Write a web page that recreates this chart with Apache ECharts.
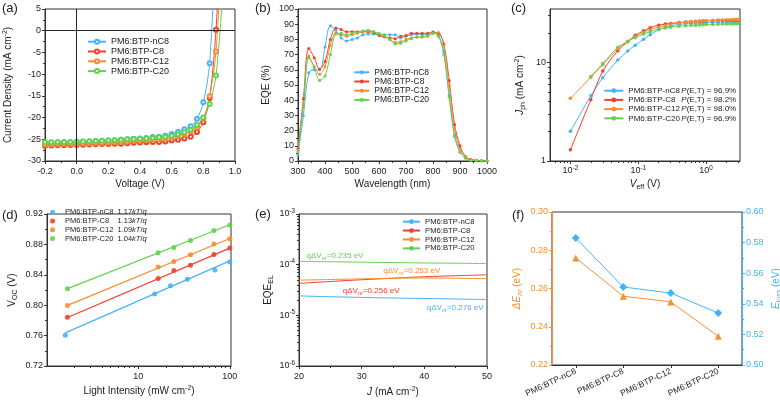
<!DOCTYPE html>
<html><head><meta charset="utf-8">
<script src="https://cdn.jsdelivr.net/npm/echarts@6/dist/echarts.min.js"></script>
<style>html,body{margin:0;padding:0;background:#fff}#c{width:780px;height:403px}</style>
</head><body><div id="c"></div>
<script>
const FONT = '"Liberation Sans", Arial, Helvetica, sans-serif';
const SERIES_NAMES = ['PM6:BTP-nC8', 'PM6:BTP-C8', 'PM6:BTP-C12', 'PM6:BTP-C20'];
const COLORS = ['#46b3f5', '#f0412d', '#f98b30', '#63d24e'];

// (a) J-V curves
const jvVoltage = [-0.2,-0.16,-0.12,-0.08,-0.04,0,0.04,0.08,0.12,0.16,0.2,0.24,0.28,0.32,0.36,0.4,0.44,0.48,0.52,0.56,0.6,0.64,0.68,0.72,0.76,0.8,0.84,0.88,0.92];
const jvNC8 = [-25.9,-25.85,-25.8,-25.75,-25.7,-25.6,-25.55,-25.5,-25.4,-25.35,-25.3,-25.2,-25.1,-25.0,-24.9,-24.8,-24.7,-24.5,-24.4,-24.2,-23.8,-23.3,-22.7,-22.0,-20.3,-16.5,-7.5,22,null];
const jvC8 = [-26.5,-26.45,-26.4,-26.35,-26.3,-26.3,-26.25,-26.2,-26.15,-26.1,-26.1,-26.0,-26.0,-25.9,-25.8,-25.75,-25.7,-25.65,-25.6,-25.5,-25.3,-25.1,-24.8,-24.4,-23.3,-21.1,-15.5,0.2,30];
const jvC12 = [-26.2,-26.15,-26.1,-26.05,-26.0,-26.0,-25.95,-25.9,-25.85,-25.8,-25.75,-25.7,-25.6,-25.5,-25.4,-25.3,-25.2,-25.1,-25.0,-24.85,-24.6,-24.25,-23.8,-23.2,-22.3,-20.3,-15.1,-4.8,21];
const jvC20 = [-25.7,-25.7,-25.65,-25.6,-25.6,-25.55,-25.5,-25.45,-25.4,-25.35,-25.3,-25.2,-25.1,-25.0,-24.95,-24.9,-24.8,-24.7,-24.55,-24.4,-24.2,-23.9,-23.4,-22.8,-21.7,-20.0,-16.9,-10.3,7];

// (b) EQE spectra
const eqeWavelength = [300,320,340,360,380,400,420,440,460,480,500,520,540,560,580,600,620,640,660,680,700,720,740,760,780,800,820,840,860,880,900,920,940,960,980,1000];
const eqeNC8 = [4,30,58,60,60,75,89,86,81,79,80,81,83,83.5,83.5,83,83,83,83,81,82,83,83.5,83,83.5,85,83,72,43,17,6,2,0.5,0.2,0.1,0];
const eqeC8 = [8,41,74,68,60.5,65.5,80,87.5,86.5,85,85,85,85,85,84.5,82.5,81.5,81,80.5,82,82.5,84,84,84,84,84.5,84,77,53,24,10,3,1,0.5,0.2,0.1];
const eqeC12 = [7,37,69,62,57,62,76,84,83,82,83,84,85,85.5,85,83.5,82,80,78,78.5,80,81,81.5,81.5,82,84,84.5,76,50,21,8,3,1,0.5,0.2,0.1];
const eqeC20 = [6,36,68,62,53,56,70,83.5,84,83,84,84.5,85.5,86,85,84,82.5,80,77,77.5,79,80.5,81.5,81.5,82.5,84,82,70,42,16,6,2,0.5,0.3,0.1,0];

// (c) Jph vs Veff
const veff = [0.01,0.02,0.03,0.05,0.07,0.09,0.12,0.15,0.2,0.25,0.3,0.4,0.5,0.6,0.7,0.8,0.9,1.0,1.25,1.5,1.75,2.0,2.25,2.5,2.75,3.0];
const jphNC8 = [2.0,4.6,7.0,10.6,13.1,15.0,17.3,19.2,21.5,22.8,23.6,24.4,24.8,25.0,25.2,25.3,25.4,25.5,25.6,25.7,25.8,25.8,25.9,25.9,26.0,26.0];
const jphC8 = [1.3,4.2,8.2,13.2,16.3,18.9,21.0,22.6,24.0,24.6,25.0,25.5,25.8,26.0,26.2,26.3,26.4,26.5,26.6,26.7,26.8,26.9,26.9,27.0,27.0,27.1];
const jphC12 = [4.33,7.1,9.5,13.8,16.5,18.3,20.3,21.6,22.9,23.8,24.5,25.3,25.8,26.1,26.3,26.5,26.6,26.7,26.9,27.0,27.1,27.2,27.2,27.3,27.3,27.4];
const jphC20 = [null,7.2,9.8,14.3,16.4,17.9,19.5,20.6,21.8,22.5,22.9,23.4,23.7,23.9,24.0,24.1,24.2,24.3,24.4,24.5,24.6,24.6,24.7,24.7,24.8,24.8];
const dissociationP = ['96.9%', '98.2%', '98.0%', '96.9%'];

// (d) Voc vs light intensity
const lightNC8 = [1.6,15.1,22.5,34.4,68.8,100];
const lightOthers = [1.69,16.5,24.5,37.2,67.0,100];
const vocNC8 = [0.7605,0.8147,0.8257,0.8341,0.8464,0.857];
const vocC8 = [0.7843,0.835,0.8456,0.8526,0.8667,0.8751];
const vocC12 = [0.7997,0.8504,0.8574,0.8663,0.8804,0.8874];
const vocC20 = [0.8218,0.8689,0.8759,0.8852,0.8984,0.9055];
const fitNC8 = [0.7636,0.8583];
const fitC8 = [0.7839,0.8751];
const fitC12 = [0.7997,0.8878];
const fitC20 = [0.8218,0.9059];
const idealityN = ['1.17', '1.13', '1.09', '1.04'];

// (e) EQE_EL vs J
const jEL = [20,25,30,35,40,45,50];
const elNC8 = [2.42e-5,2.33e-5,2.26e-5,2.2e-5,2.15e-5,2.1e-5,2.05e-5];
const elC8 = [4.26e-5,4.65e-5,5.04e-5,5.4e-5,5.78e-5,6.05e-5,6.3e-5];
const elC12 = [4.95e-5,5.1e-5,5.25e-5,5.4e-5,5.45e-5,5.4e-5,5.3e-5];
const elC20 = [1.16e-4,1.14e-4,1.12e-4,1.10e-4,1.08e-4,1.07e-4,1.05e-4];
const dVnrLabels = ['0.276', '0.256', '0.253', '0.235'];

// (f) energy loss
const fCategories = ['PM6:BTP-nC8', 'PM6:BTP-C8', 'PM6:BTP-C12', 'PM6:BTP-C20'];
const dEnr = [0.276, 0.256, 0.253, 0.235];
const eLoss = [0.583, 0.551, 0.547, 0.534];

// ---------- helpers ----------
const zip = (xs, ys) => xs.map((x, i) => [x, ys[i]]);
function merge(a, b) {
  const out = Object.assign({}, a);
  for (const k in b) {
    const v = b[k];
    if (v && typeof v === 'object' && !Array.isArray(v) && a && a[k] && typeof a[k] === 'object' && !Array.isArray(a[k])) out[k] = merge(a[k], v);
    else out[k] = v;
  }
  return out;
}
function richSet(color, size) {
  const s = Math.round(size * 0.7 * 10) / 10;
  return {
    b: {fontSize: size, lineHeight: size + 3, fontFamily: FONT, color: color},
    i: {fontSize: size, lineHeight: size + 3, fontStyle: 'italic', fontFamily: FONT, color: color},
    sup: {fontSize: s, lineHeight: s + 1, verticalAlign: 'top', fontFamily: FONT, color: color},
    sub: {fontSize: s, lineHeight: s + 1, verticalAlign: 'bottom', fontFamily: FONT, color: color},
    isub: {fontSize: s, lineHeight: s + 1, verticalAlign: 'bottom', fontStyle: 'italic', fontFamily: FONT, color: color}
  };
}
const pow10Label = v => '{b|10}{sup|' + Math.round(Math.log10(v)) + '}';
const AX = '#333';
const TXT = '#222';
function baseAxis(color) {
  color = color || AX;
  const tcol = color === AX ? TXT : color;
  return {
    nameMoveOverlap: false,
    axisLine: {show: true, onZero: false, lineStyle: {color: color, width: 1}},
    axisTick: {show: true, inside: false, length: 3, lineStyle: {color: color, width: 1}},
    minorTick: {show: false, splitNumber: 2, length: 2, lineStyle: {color: color, width: 1}},
    splitLine: {show: false},
    minorSplitLine: {show: false},
    axisLabel: {fontSize: 9, color: tcol, fontFamily: FONT, margin: 4, lineHeight: 12, rich: richSet(tcol, 9)},
    nameLocation: 'middle',
    nameTextStyle: {fontSize: 10, color: tcol, fontFamily: FONT, lineHeight: 13, rich: richSet(tcol, 10)}
  };
}
function ax(extra, color) { return merge(baseAxis(color), extra); }
function minorAxis(grid, pos, lo, hi, values) {
  return {
    gridIndex: grid, type: 'value', position: pos, min: lo, max: hi, silent: true,
    axisLine: {show: false, onZero: false}, axisLabel: {show: false}, splitLine: {show: false},
    axisTick: {show: true, inside: false, length: 2, customValues: values, lineStyle: {color: AX, width: 1}}
  };
}
function logMinors(lo, hi) {
  const out = [];
  for (let e = Math.floor(Math.log10(lo)); e <= Math.ceil(Math.log10(hi)); e++) {
    for (let m = 2; m <= 9; m++) {
      const v = m * Math.pow(10, e);
      if (v > lo && v < hi) out.push(Math.log10(v));
    }
  }
  return out;
}

// ---------- grids ----------
const grids = [
  {left: 45, top: 9, width: 190, height: 152},
  {left: 298, top: 9, width: 189, height: 152},
  {left: 550, top: 9, width: 190, height: 152},
  {left: 47, top: 214, width: 184, height: 152},
  {left: 299, top: 214, width: 188, height: 152},
  {left: 552, top: 212, width: 190, height: 153}
].map(g => Object.assign({show: true, borderColor: AX, borderWidth: 1, backgroundColor: 'transparent', containLabel: false, outerBoundsMode: 'none'}, g));

const cX = [0.005, 3.16], cY = [1, 35], dX = [1.01, 103], eY = [1e-6, 1e-3];

const xAxis = [
  ax({gridIndex: 0, type: 'value', min: -0.2, max: 1.0, interval: 0.2, minorTick: {show: true},
      axisLabel: {formatter: v => v.toFixed(1), margin: 5}, name: 'Voltage (V)', nameGap: 17}),
  ax({gridIndex: 1, type: 'value', min: 300, max: 1000, interval: 100, minorTick: {show: true},
      axisLabel: {formatter: v => String(v), margin: 5}, name: 'Wavelength (nm)', nameGap: 17}),
  ax({gridIndex: 2, type: 'log', logBase: 10, min: cX[0], max: cX[1],
      axisLabel: {formatter: pow10Label, showMinLabel: false, showMaxLabel: false, margin: 4},
      name: '{i|V}{sub|eff} (V)', nameGap: 17}),
  ax({gridIndex: 3, type: 'log', logBase: 10, min: dX[0], max: dX[1],
      axisLabel: {formatter: v => String(Math.round(v)), showMinLabel: false, showMaxLabel: false, margin: 5},
      name: 'Light Intensity (mW cm{sup|-2})', nameGap: 19}),
  ax({gridIndex: 4, type: 'value', min: 20, max: 50, interval: 10, minorTick: {show: true},
      axisLabel: {formatter: v => String(v), margin: 5}, name: '{i|J} (mA cm{sup|-2})', nameGap: 20}),
  ax({gridIndex: 5, type: 'category', data: fCategories, boundaryGap: true,
      axisTick: {alignWithLabel: true}, axisLabel: {rotate: 25, fontSize: 8.5, margin: 6, interval: 0}}),
  minorAxis(2, 'bottom', Math.log10(cX[0]), Math.log10(cX[1]), logMinors(cX[0], cX[1])),
  minorAxis(3, 'bottom', Math.log10(dX[0]), Math.log10(dX[1]), logMinors(dX[0], dX[1]))
];

const ORANGE = '#f7902e', BLUE = '#45b4f6';
const yAxis = [
  ax({gridIndex: 0, type: 'value', min: -30, max: 5, interval: 5, minorTick: {show: true},
      axisLabel: {formatter: v => String(v)}, name: 'Current Density (mA cm{sup|-2})', nameGap: 30}),
  ax({gridIndex: 1, type: 'value', min: 0, max: 100, interval: 10, minorTick: {show: true},
      axisLabel: {formatter: v => String(v)}, name: 'EQE (%)', nameGap: 25}),
  ax({gridIndex: 2, type: 'log', logBase: 10, min: cY[0], max: cY[1],
      axisLabel: {formatter: v => String(Math.round(v)), showMaxLabel: false},
      name: '{i|J}{sub|ph} (mA cm{sup|-2})', nameGap: 23}),
  ax({gridIndex: 3, type: 'value', min: 0.72, max: 0.92, interval: 0.04, minorTick: {show: true},
      axisLabel: {formatter: v => v.toFixed(2)}, name: 'V{sub|OC} (V)', nameGap: 28}),
  ax({gridIndex: 4, type: 'log', logBase: 10, min: eY[0], max: eY[1],
      axisLabel: {formatter: pow10Label}, name: 'EQE{sub|EL}', nameGap: 24}),
  ax({gridIndex: 5, type: 'value', position: 'left', min: 0.22, max: 0.30, interval: 0.02, minorTick: {show: true},
      axisLabel: {formatter: v => v.toFixed(2)}, name: '{i|ΔE}{isub|nr} (eV)', nameGap: 28}, ORANGE),
  ax({gridIndex: 5, type: 'value', position: 'right', min: 0.50, max: 0.60, interval: 0.02, minorTick: {show: true},
      axisLabel: {formatter: v => v.toFixed(2)}, name: '{i|E}{sub|loss} (eV)', nameGap: 28}, BLUE),
  minorAxis(2, 'left', Math.log10(cY[0]), Math.log10(cY[1]), logMinors(cY[0], cY[1])),
  minorAxis(4, 'left', Math.log10(eY[0]), Math.log10(eY[1]), logMinors(eY[0], eY[1]))
];

// ---------- series ----------
const series = [];
const jvData = [jvNC8, jvC8, jvC12, jvC20];
const eqeData = [eqeNC8, eqeC8, eqeC12, eqeC20];
const jphData = [jphNC8, jphC8, jphC12, jphC20];
const vocData = [vocNC8, vocC8, vocC12, vocC20];
const fitData = [fitNC8, fitC8, fitC12, fitC20];
const elData = [elNC8, elC8, elC12, elC20];

SERIES_NAMES.forEach((n, i) => {
  const c = COLORS[i];
  series.push({
    type: 'line', name: 'a|' + n, xAxisIndex: 0, yAxisIndex: 0, data: zip(jvVoltage, jvData[i]),
    symbol: 'emptyCircle', symbolSize: 4, smooth: 0.3, clip: true,
    lineStyle: {width: 1, color: c}, itemStyle: {color: c, borderWidth: 1},
    markLine: i === 0 ? {silent: true, symbol: 'none', label: {show: false}, animation: false,
      lineStyle: {color: '#222', width: 1, type: 'solid'}, emphasis: {disabled: true},
      data: [{xAxis: 0}, {yAxis: 0}]} : undefined
  });
});
SERIES_NAMES.forEach((n, i) => {
  const c = COLORS[i];
  series.push({
    type: 'line', name: 'b|' + n, xAxisIndex: 1, yAxisIndex: 1, data: zip(eqeWavelength, eqeData[i]),
    symbol: 'circle', symbolSize: 3, smooth: 0.35, clip: true,
    lineStyle: {width: 1, color: c}, itemStyle: {color: c}
  });
});
SERIES_NAMES.forEach((n, i) => {
  const c = COLORS[i];
  series.push({
    type: 'line', name: 'c|' + n, xAxisIndex: 2, yAxisIndex: 2, data: zip(veff, jphData[i]),
    symbol: 'circle', symbolSize: 3.5, smooth: 0.3, clip: true,
    lineStyle: {width: 1, color: c}, itemStyle: {color: c}
  });
});
SERIES_NAMES.forEach((n, i) => {
  const c = COLORS[i];
  const xs = i === 0 ? lightNC8 : lightOthers;
  series.push({
    type: 'line', name: 'dfit|' + n, xAxisIndex: 3, yAxisIndex: 3,
    data: [[xs[0], fitData[i][0]], [xs[xs.length - 1], fitData[i][1]]],
    symbol: 'none', lineStyle: {width: 1.2, color: c}
  });
  series.push({
    type: 'scatter', name: 'd|' + n, xAxisIndex: 3, yAxisIndex: 3, data: zip(xs, vocData[i]),
    symbol: 'circle', symbolSize: 5, itemStyle: {color: c, opacity: 0.9}
  });
});
SERIES_NAMES.forEach((n, i) => {
  const c = COLORS[i];
  series.push({
    type: 'line', name: 'e|' + n, xAxisIndex: 4, yAxisIndex: 4, data: zip(jEL, elData[i]),
    symbol: 'none', smooth: true, lineStyle: {width: 1, color: c}, itemStyle: {color: c}
  });
});
series.push({
  type: 'line', name: 'f|dEnr', xAxisIndex: 5, yAxisIndex: 5, data: dEnr,
  symbol: 'triangle', symbolSize: 7, lineStyle: {width: 1, color: ORANGE}, itemStyle: {color: ORANGE}
});
series.push({
  type: 'line', name: 'f|Eloss', xAxisIndex: 5, yAxisIndex: 6, data: eLoss,
  symbol: 'diamond', symbolSize: 8, lineStyle: {width: 1, color: BLUE}, itemStyle: {color: BLUE}
});

// ---------- legends ----------
function legendCfg(prefix, left, top, fs, lh, iw, ih, formatter, rich) {
  return {
    orient: 'vertical', left: left, top: top, itemGap: 0, itemWidth: iw, itemHeight: ih, padding: 0,
    selectedMode: false,
    data: SERIES_NAMES.map(n => prefix + '|' + n),
    formatter: formatter || (name => name.split('|')[1]),
    textStyle: {fontSize: fs, lineHeight: lh, color: TXT, fontFamily: FONT, rich: rich}
  };
}
const legendC = legendCfg('c', 603.3, 86.1, 8, 9.2, 19, 6,
  name => { const i = SERIES_NAMES.indexOf(name.split('|')[1]);
    return '{n|' + SERIES_NAMES[i] + '}{i|P}{t|(E,T) = ' + dissociationP[i] + '}'; },
  {n: {width: 53, fontSize: 8, fontFamily: FONT, color: TXT}, i: {fontSize: 8, fontStyle: 'italic', fontFamily: FONT, color: TXT}, t: {fontSize: 8, fontFamily: FONT, color: TXT}});
const legendD = legendCfg('d', 50, 208, 7.5, 8.7, 15, 5,
  name => { const i = SERIES_NAMES.indexOf(name.split('|')[1]);
    return '{n|' + SERIES_NAMES[i] + '}{t|' + idealityN[i] + '}{i|kT}{t|/}{i|q}'; },
  {n: {width: 52.5, fontSize: 7.5, fontFamily: FONT, color: TXT}, i: {fontSize: 7.5, fontStyle: 'italic', fontFamily: FONT, color: TXT}, t: {fontSize: 7.5, fontFamily: FONT, color: TXT}});
const legend = [
  legendCfg('a', 87, 36.8, 9, 9.8, 18, 5),
  legendCfg('b', 353.3, 67.7, 8.5, 9.2, 15, 5),
  legendC,
  legendD,
  legendCfg('e', 402, 217.2, 7.7, 8.9, 17, 6)
];

// ---------- graphic text ----------
function gText(text, x, y, size, color, extra) {
  return Object.assign({type: 'text', x: x, y: y, silent: true, z: 100,
    style: {text: text, fill: color, fontSize: size, fontFamily: FONT, align: 'left', verticalAlign: 'middle',
      rich: {s: {fontSize: size * 0.72, fontStyle: 'italic', fontFamily: FONT, fill: color, verticalAlign: 'bottom', lineHeight: size * 0.72 + 1},
             b: {fontSize: size, fontFamily: FONT, fill: color, lineHeight: size + 3}}}}, extra || {});
}
const letters = [['(a)', 2, 8], ['(b)', 255, 8], ['(c)', 511, 8], ['(d)', 2, 215], ['(e)', 255, 214], ['(f)', 512, 215]];
const annotPos = [[426.7, 307.7], [342.7, 290.7], [383.3, 270.7], [306.5, 256]];
const graphic = letters.map(l => gText(l[0], l[1], l[2], 13, TXT))
  .concat(annotPos.map((p, i) => gText('{b|qΔV}{s|nr}{b|=' + dVnrLabels[i] + ' eV}', p[0], p[1], 8, COLORS[i])));

const chart = echarts.init(document.getElementById('c'), null, {renderer: 'canvas'});
chart.setOption({
  animation: false,
  backgroundColor: '#ffffff',
  textStyle: {fontFamily: FONT},
  grid: grids, xAxis: xAxis, yAxis: yAxis, legend: legend, series: series, graphic: graphic
});
</script></body></html>
